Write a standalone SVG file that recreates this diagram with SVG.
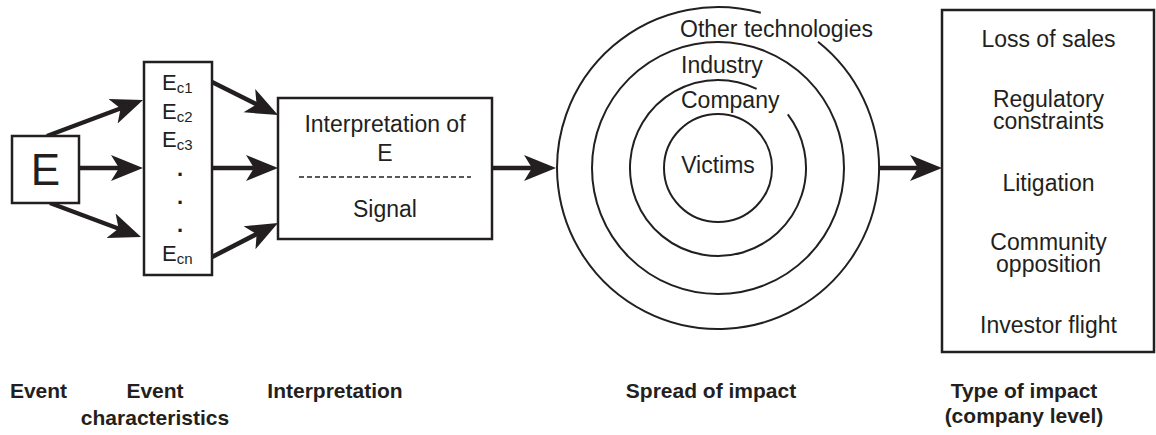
<svg xmlns="http://www.w3.org/2000/svg" width="1156" height="435" viewBox="0 0 1156 435">
<style>
text{font-family:"Liberation Sans",Arial,sans-serif;fill:#231f20}
.t{font-size:23px;text-anchor:middle}
.b{font-size:21px;font-weight:bold;text-anchor:middle}
.box{fill:#fff;stroke:#231f20;stroke-width:2.5}
.ring{fill:none;stroke:#231f20;stroke-width:2}
.arr{stroke:#231f20;stroke-width:4.5;fill:none;marker-end:url(#ah)}
</style>
<defs>
<marker id="ah" markerUnits="userSpaceOnUse" viewBox="0 0 32 28" markerWidth="32" markerHeight="28" refX="12" refY="14" orient="auto">
<path d="M32 14 L0 1 L8 14 L0 27 Z" fill="#231f20"/>
</marker>
</defs>
<rect width="1156" height="435" fill="#fff"/>
<g id="connectors">
<line class="arr" x1="47" y1="136" x2="124.3" y2="107"/>
<line class="arr" x1="79" y1="168" x2="123" y2="168"/>
<line class="arr" x1="50" y1="203" x2="122.3" y2="230"/>
<line class="arr" x1="212" y1="82" x2="260.1" y2="106.1"/>
<line class="arr" x1="212" y1="168" x2="258" y2="168"/>
<line class="arr" x1="212" y1="257" x2="260.2" y2="232.2"/>
<line class="arr" x1="492" y1="168" x2="536" y2="168"/>
<line class="arr" x1="880" y1="168" x2="922" y2="168"/>
</g>
<g id="event">
<rect class="box" x="12" y="136" width="67" height="67"/>
<text x="45.5" y="185" style="font-size:44px;text-anchor:middle">E</text>
</g>
<g id="characteristics">
<rect class="box" x="144" y="62" width="68" height="213"/>
<text x="162" y="90" style="font-size:22px">E<tspan font-size="15" dy="3">c1</tspan></text>
<text x="162" y="119" style="font-size:22px">E<tspan font-size="15" dy="3">c2</tspan></text>
<text x="162" y="147" style="font-size:22px">E<tspan font-size="15" dy="3">c3</tspan></text>
<text x="180" y="176" style="font-size:22px;font-weight:bold;text-anchor:middle">.</text>
<text x="180" y="204" style="font-size:22px;font-weight:bold;text-anchor:middle">.</text>
<text x="180" y="232" style="font-size:22px;font-weight:bold;text-anchor:middle">.</text>
<text x="162" y="261" style="font-size:22px">E<tspan font-size="15" dy="3">cn</tspan></text>
</g>
<g id="interpretation">
<rect class="box" x="278" y="98" width="214" height="141"/>
<text class="t" x="385" y="132">Interpretation of</text>
<text class="t" x="385" y="161">E</text>
<line x1="299" y1="177" x2="471" y2="177" stroke="#231f20" stroke-width="1.5" stroke-dasharray="5,3"/>
<text class="t" x="385" y="217">Signal</text>
</g>
<g id="spread">
<path class="ring" d="M818 41.8 A161 161 0 1 1 760.8 12.8"/>
<circle class="ring" cx="718" cy="168" r="126"/>
<path class="ring" d="M787.8 114.4 A88 88 0 1 1 756.6 88.9"/>
<circle class="ring" cx="718" cy="168" r="54"/>
<text x="680" y="37" style="font-size:23px">Other technologies</text>
<text x="681" y="73" style="font-size:23px">Industry</text>
<text x="681" y="108" style="font-size:23px">Company</text>
<text class="t" x="718" y="173">Victims</text>
</g>
<g id="impact">
<rect class="box" x="942" y="10" width="212" height="342"/>
<text class="t" x="1048.5" y="47">Loss of sales</text>
<text class="t" x="1048.5" y="107">Regulatory</text>
<text class="t" x="1048.5" y="129">constraints</text>
<text class="t" x="1048.5" y="191">Litigation</text>
<text class="t" x="1048.5" y="250">Community</text>
<text class="t" x="1048.5" y="272">opposition</text>
<text class="t" x="1048.5" y="333">Investor flight</text>
</g>
<g id="labels">
<text class="b" x="38.5" y="398">Event</text>
<text class="b" x="155" y="398">Event</text>
<text class="b" x="155" y="425">characteristics</text>
<text class="b" x="335" y="398">Interpretation</text>
<text class="b" x="711" y="398">Spread of impact</text>
<text class="b" x="1024" y="398">Type of impact</text>
<text class="b" x="1024" y="423">(company level)</text>
</g>
</svg>
